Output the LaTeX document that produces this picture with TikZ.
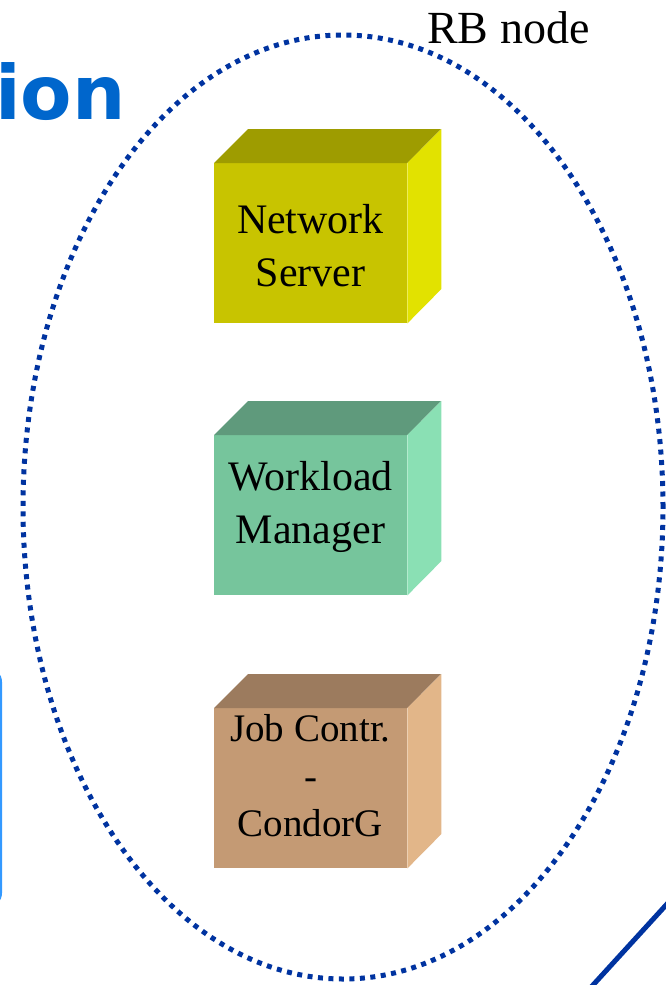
\documentclass[tikz,border=0pt]{standalone}
\usepackage{fontspec}
\setmainfont{Liberation Serif}
\newfontfamily\headfont{DejaVu Sans}
\definecolor{rbblue}{HTML}{0033A0}
\definecolor{headblue}{HTML}{0066CC}
\definecolor{panelblue}{HTML}{3399FF}
\definecolor{nsfront}{HTML}{C8C400}
\definecolor{nstop}{HTML}{9E9C00}
\definecolor{nsside}{HTML}{E2E200}
\definecolor{wmfront}{HTML}{76C59C}
\definecolor{wmtop}{HTML}{5F9A7C}
\definecolor{wmside}{HTML}{8AE0B4}
\definecolor{jcfront}{HTML}{C49A74}
\definecolor{jctop}{HTML}{9C7B5E}
\definecolor{jcside}{HTML}{E2B689}
\tikzset{
  face/.style={draw=none, minimum width=193pt, minimum height=160pt,
    inner sep=0pt, anchor=north west},
  cubetext/.style={font=\fontsize{42}{53}\selectfont, align=center,
    text=black, inner sep=0pt},
  rbdots/.style={draw=rbblue, line width=5pt, dash pattern=on 5pt off 5.5pt},
}
% front face at its north west corner, with top and side faces behind it
\newcommand{\boxfaces}[3]{%
  \fill[#2] (#1.north west) -- ++(34,-34) -- ++(193,0) -- (#1.north east) -- cycle;
  \fill[#3] (#1.north east) -- ++(34,-34) -- ++(0,160) -- (#1.south east) -- cycle;
}
\begin{document}
\begin{tikzpicture}[x=1pt,y=-1pt]
  \useasboundingbox (0,0) rectangle (666,985);
  \clip (0,0) rectangle (666,985);

  % heading fragment and side panel edge
  \node[anchor=base west, inner sep=0pt, text=headblue,
        font=\headfont\bfseries\fontsize{75}{80}\selectfont] (head) at (-5,119) {ion};
  \draw[panelblue, line width=2pt, rounded corners=14pt] (-120,668) rectangle (1,907);

  % diagonal line at the lower right
  \coordinate (diagA) at (588,990.5);
  \coordinate (diagB) at (672,898.5);
  \draw[rbblue, line width=5pt] (diagA) -- (diagB);

  % RB node boundary
  \draw[rbdots] (343,507) ellipse [x radius=320pt, y radius=472pt];
  \node[anchor=base west, inner sep=0pt, font=\fontsize{46}{50}\selectfont] (rblabel)
    at (427,43) {RB node};

  % Network Server
  \node[face, fill=nsfront] (ns) at (214,163) {};
  \boxfaces{ns}{nstop}{nsside}
  \node[cubetext] (nstext) at (310.5,246) {Network\\Server};

  % Workload Manager
  \node[face, fill=wmfront] (wm) at (214,435) {};
  \boxfaces{wm}{wmtop}{wmside}
  \node[cubetext] (wmtext) at (310.5,507) {Workload\\Manager};

  % Job Controller - CondorG
  \node[face, fill=jcfront] (jc) at (214,708) {};
  \boxfaces{jc}{jctop}{jcside}
  \node[cubetext, font=\fontsize{39}{47.5}\selectfont] (jctext) at (310.5,776)
    {Job Contr.\\-\\CondorG};
\end{tikzpicture}
\end{document}
